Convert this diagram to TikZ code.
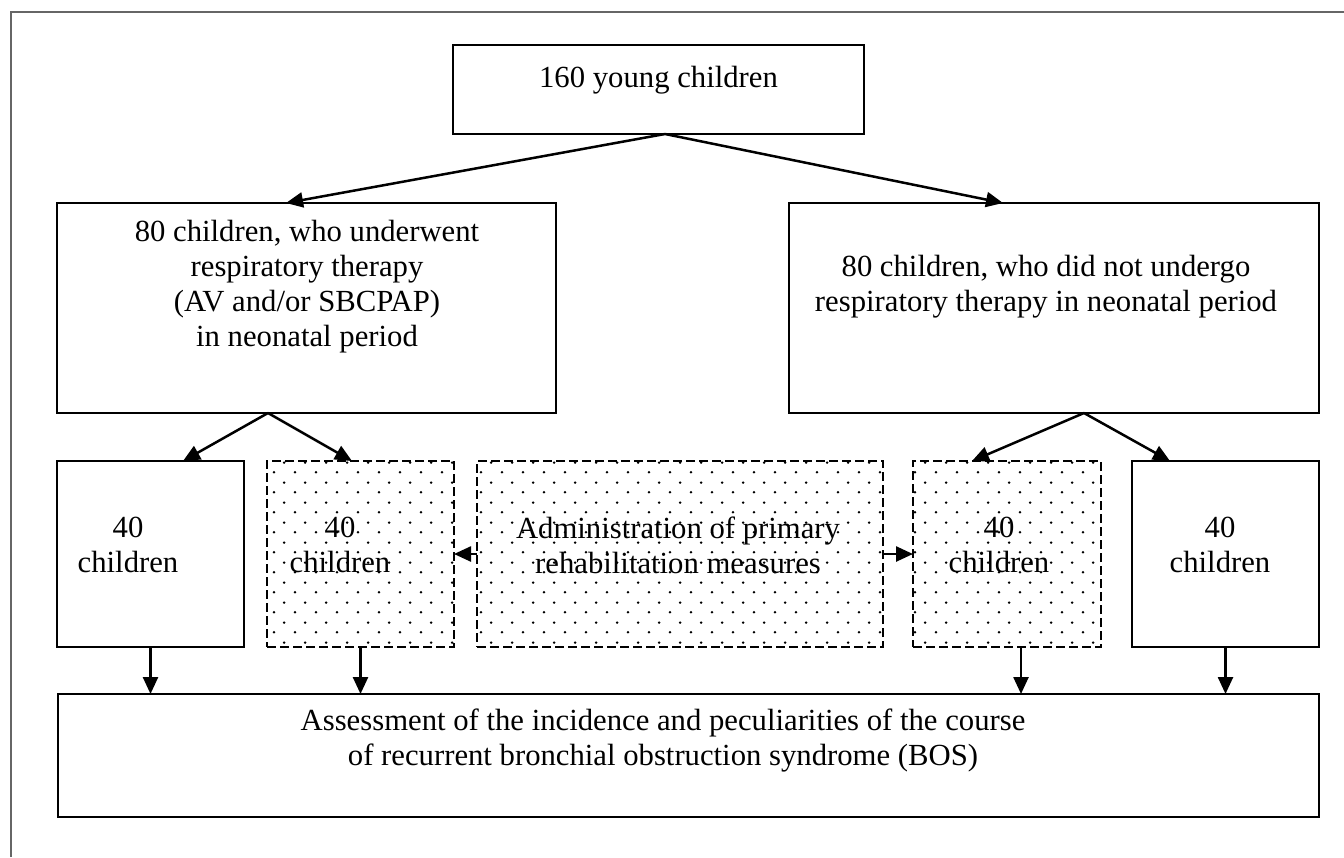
\documentclass[tikz,border=0pt]{standalone}
\usepackage{fontspec}
\setmainfont{Liberation Serif}
\usetikzlibrary{arrows.meta,patterns}

\pgfdeclarepatternformonly{sparsedots}{\pgfqpoint{0pt}{0pt}}{\pgfqpoint{20.7pt}{20pt}}{\pgfqpoint{20.7pt}{20pt}}{%
  \pgfpathcircle{\pgfqpoint{5pt}{5pt}}{1.4pt}%
  \pgfpathcircle{\pgfqpoint{15.35pt}{15pt}}{1.4pt}%
  \pgfusepath{fill}}

\tikzset{
  solidbox/.style={draw, line width=2pt, inner sep=0pt, outer sep=0pt},
  dotbox/.style={draw, line width=2.2pt, dash pattern=on 9pt off 4pt, pattern=sparsedots, inner sep=0pt, outer sep=0pt},
  txt/.style={align=center, inner sep=0pt, font=\fontsize{30.7}{35}\selectfont},
  arr/.style={line width=2.5pt, -{Triangle[length=17pt,width=15pt]}},
  frame/.style={line width=2pt, draw=black!60}
}

\begin{document}
\begin{tikzpicture}[x=1pt,y=-1pt]
		\useasboundingbox (0,0) rectangle (1344,857);
		\draw[frame] (11,857) -- (11,12) -- (1344,12);
		% boxes
		\node[solidbox, minimum width=411, minimum height=89] (young) at (658.5,89.5) {};
		\node[solidbox, minimum width=499, minimum height=210] (therapy) at (306.5,308) {};
		\node[solidbox, minimum width=530, minimum height=210] (notherapy) at (1054,308) {};
		\node[solidbox, minimum width=187, minimum height=186] (grpa) at (150.5,554) {};
		\node[dotbox, minimum width=187, minimum height=186] (grpb) at (360.5,554) {};
		\node[dotbox, minimum width=406, minimum height=186] (rehab) at (680,554) {};
		\node[dotbox, minimum width=188, minimum height=186] (grpc) at (1007,554) {};
		\node[solidbox, minimum width=187, minimum height=186] (grpd) at (1225.5,554) {};
		\node[solidbox, minimum width=1261, minimum height=123] (bos) at (688.5,755.5) {};
		% texts
		\node[txt] (youngtxt) at (658.5,80) {160 young children};
		\node[txt] (therapytxt) at (307,287) {80 children, who underwent\\respiratory therapy\\(AV and/or SBCPAP)\\in neonatal period};
		\node[txt] (notherapytxt) at (1046,287) {80 children, who did not undergo\\respiratory therapy in neonatal period};
		\node[txt] (grpatxt) at (128,545) {40\\children};
		\node[txt] (grpbtxt) at (340,545) {40\\children};
		\node[txt] (rehabtxt) at (678,545) {Administration of primary\\rehabilitation measures};
		\node[txt] (grpctxt) at (999,545) {40\\children};
		\node[txt] (grpdtxt) at (1220,545) {40\\children};
		\node[txt] (bostxt) at (663,740) {Assessment of the incidence and peculiarities of the course\\of recurrent bronchial obstruction syndrome (BOS)};
		% arrows
		\draw[arr] ([xshift=6.5pt]young.south) -- ([xshift=-20.5pt]therapy.north);
		\draw[arr] ([xshift=6.5pt]young.south) -- ([xshift=-51pt]notherapy.north);
		\draw[arr] ([xshift=-38.5pt]therapy.south) -- ([xshift=32.5pt]grpa.north);
		\draw[arr] ([xshift=-38.5pt]therapy.south) -- ([xshift=-8.5pt]grpb.north);
		\draw[arr] ([xshift=30pt]notherapy.south) -- ([xshift=-35pt]grpc.north);
		\draw[arr] ([xshift=30pt]notherapy.south) -- ([xshift=-55.5pt]grpd.north);
		\draw[arr] (rehab.west) -- (grpb.east);
		\draw[arr] (rehab.east) -- (grpc.west);
		\draw[arr] (grpa.south) -- (grpa.south |- bos.north);
		\draw[arr] (grpb.south) -- (grpb.south |- bos.north);
		\draw[arr] ([xshift=14pt]grpc.south) -- ([xshift=14pt]grpc.south |- bos.north);
		\draw[arr] (grpd.south) -- (grpd.south |- bos.north);
\end{tikzpicture}
\end{document}
